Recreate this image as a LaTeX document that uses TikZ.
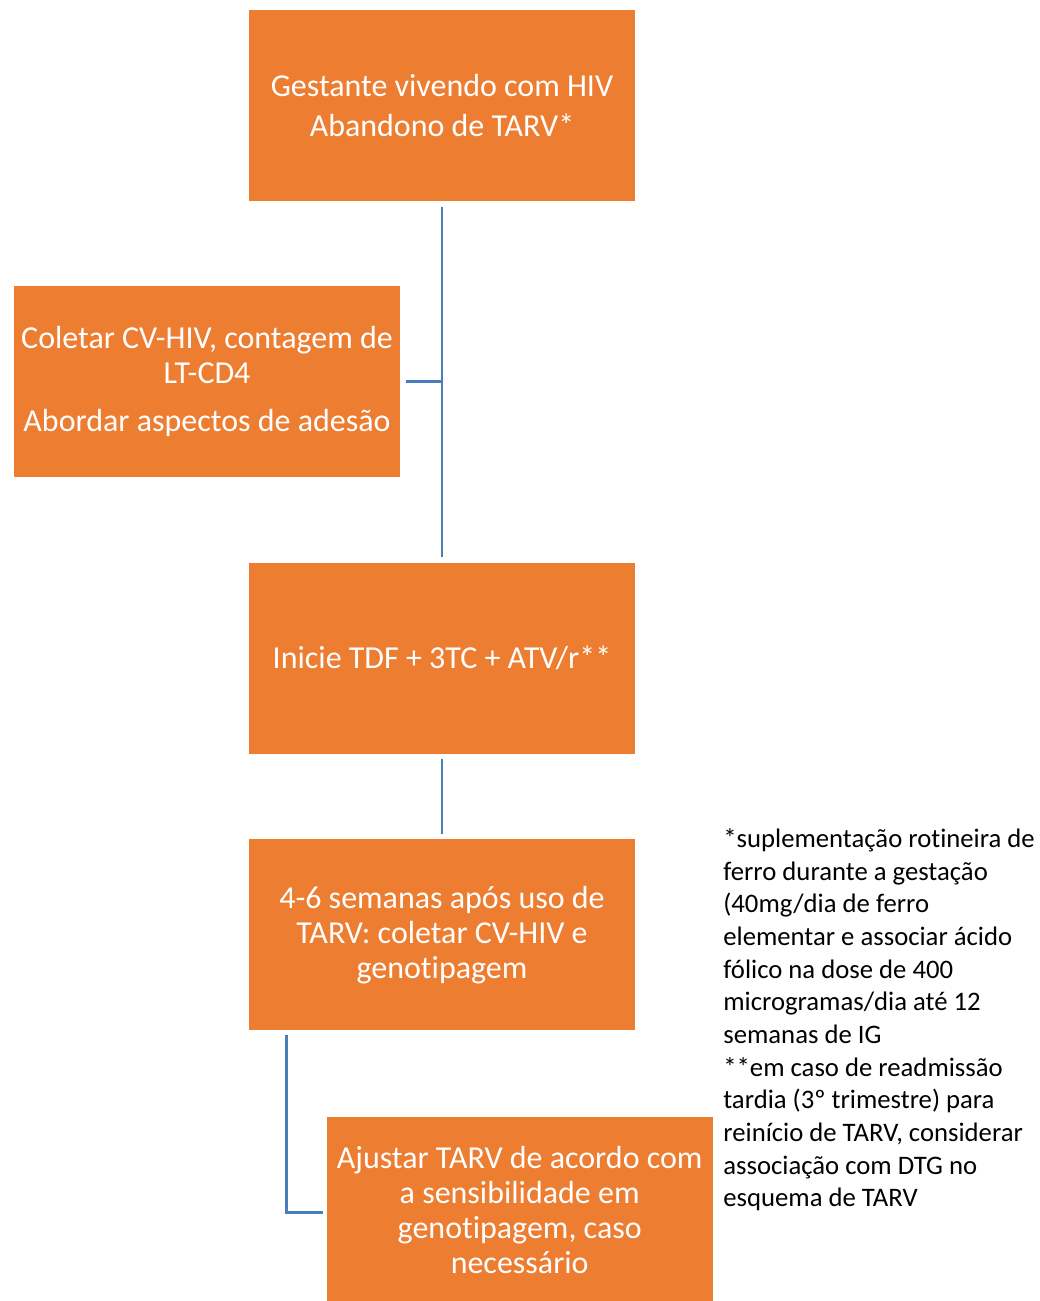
\documentclass[tikz,border=0pt]{standalone}
\usepackage{fontspec}
\setmainfont{Carlito}[Ligatures=NoCommon]
\usetikzlibrary{positioning,calc}
\definecolor{boxorange}{RGB}{237,125,49}
\definecolor{linkblue}{RGB}{74,126,187}

\begin{document}
\begin{tikzpicture}[
    x=0.02cm, y=-0.02cm,
    node distance=1cm,
    stepbox/.style={fill=boxorange, text=white, minimum width=7.72cm, minimum height=3.82cm, align=center, inner sep=2pt, font=\fontsize{18.2}{19.9}\selectfont},
    notetext/.style={align=left, anchor=north west, inner sep=0pt, font=\fontsize{15.2}{18.6}\selectfont},
    link/.style={draw=linkblue, line width=1.7pt}
]
\useasboundingbox (0,0) rectangle (1040,1301);

% Boxes of the flow
\node[stepbox] (pregnant) at (442,105.5) {Gestante vivendo com HIV\\[0.1cm]Abandono de TARV*};
\node[stepbox] (collect) at (207,381.5) {Coletar CV-HIV, contagem de\\LT-CD4\\[0.28cm]Abordar aspectos de adesão};
\node[stepbox, below=7.22cm of pregnant] (start) {Inicie TDF + 3TC + ATV/r**};
\node[stepbox, below=1.7cm of start] (weeks) {4-6 semanas após uso de\\TARV: coletar CV-HIV e\\genotipagem};
\node[stepbox, minimum height=3.72cm, below right=1.72cm and -6.18cm of weeks] (adjust) {Ajustar TARV de acordo com\\a sensibilidade em\\genotipagem, caso\\necessário};

% Footnotes
\node[notetext] (notes) at (723,828) {*suplementação rotineira de\\ferro durante a gestação\\(40mg/dia de ferro\\elementar e associar ácido\\fólico na dose de 400\\microgramas/dia até 12\\semanas de IG\\**em caso de readmissão\\tardia (3º trimestre) para\\reinício de TARV, considerar\\associação com DTG no\\esquema de TARV};

% Connectors
\draw[link, shorten <=3pt, shorten >=3pt] (pregnant) -- (start);
\draw[link, shorten <=3pt] (collect.east) -- (collect.east -| pregnant.south);
\draw[link, shorten <=3pt, shorten >=3pt] (start) -- (weeks);
\draw[link] ([xshift=0.76cm, yshift=-0.08cm]weeks.south west) |- ([xshift=-0.06cm, yshift=-0.05cm]adjust.west);

\end{tikzpicture}
\end{document}
